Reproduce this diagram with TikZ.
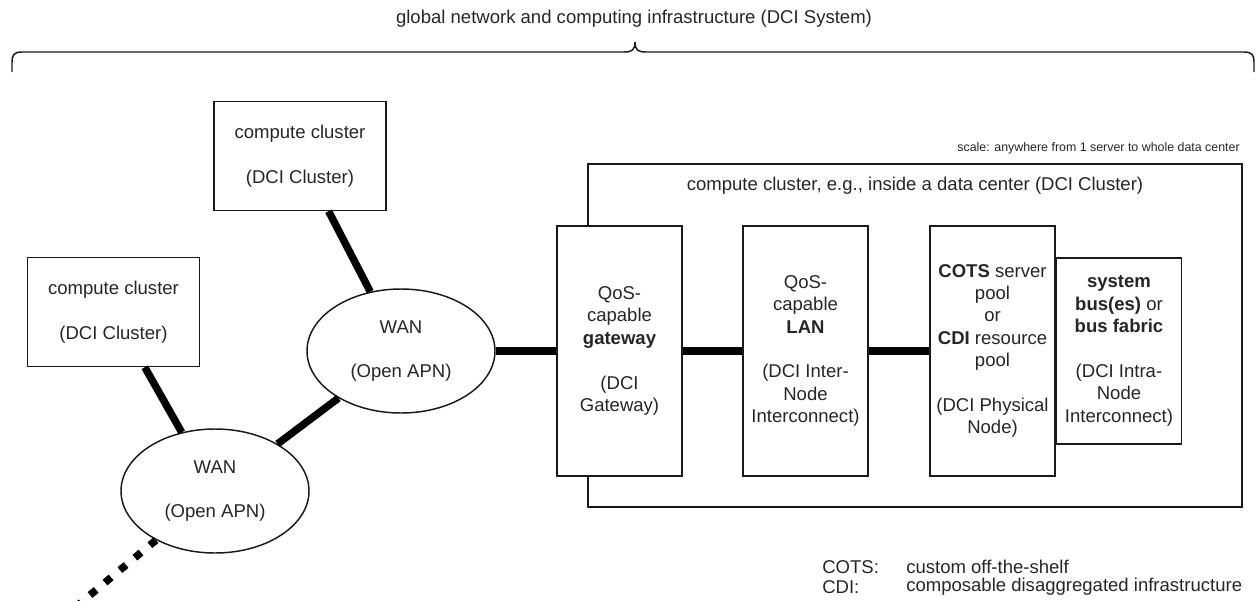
\documentclass[tikz,border=0pt]{standalone}
\usepackage{fontspec}
\setmainfont{Liberation Sans}
\usetikzlibrary{shapes.geometric}
\begin{document}
\begin{tikzpicture}[x=0.75pt,y=-0.75pt,
  every node/.style={font=\fontsize{13.9pt}{16.8pt}\selectfont, text=black!85, align=center, inner sep=0pt},
  thin line/.style={draw=black!90, line width=1.1pt},
  box/.style={thin line, fill=white, rectangle},
  cluster box/.style={box, minimum width=129pt, minimum height=81.75pt},
  tall box/.style={box, minimum width=93.75pt, minimum height=187.5pt},
  wan/.style={thin line, fill=white, ellipse, minimum width=141pt, minimum height=93pt},
  link/.style={draw=black, line width=5.6pt},
  dotted link/.style={draw=black, line width=5.6pt, dash pattern=on 6pt off 8.6pt},
  smalltext/.style={font=\fontsize{9.3pt}{11pt}\selectfont}
]
\useasboundingbox (0,0) rectangle (1257,600);

% title and brace
\node (title) at (634,19) {global network and computing infrastructure (DCI System)};
\draw[thin line] (12,72) -- (12,62) .. controls (12,55) and (14,52) .. (22,52) -- (624,52)
  .. controls (632,52) and (635,50) .. (635,42)
  .. controls (635,50) and (638,52) .. (646,52) -- (1244,52)
  .. controls (1252,52) and (1254,55) .. (1254,62) -- (1254,72);

% outer data-center cluster
\node[box, minimum width=490.5pt, minimum height=257.25pt] (dc) at (915,335.5) {};
\node (dclabel) at (915,186) {compute cluster, e.g., inside a data center (DCI Cluster)};
\node[smalltext, anchor=east] (scale) at (1240,148) {scale: anywhere from 1 server to whole data center};

% remote clusters and WANs
\node[cluster box] (c1) at (300,156) {compute cluster\\[16.8pt](DCI Cluster)};
\node[cluster box] (c2) at (113.5,312) {compute cluster\\[16.8pt](DCI Cluster)};
\node[wan] (wan1) at (401,351) {WAN\\[16.8pt](Open APN)};
\node[wan] (wan2) at (215,491) {WAN\\[16.8pt](Open APN)};
\coordinate (far) at (60,620);

% inner components
\node[tall box] (gw) at (619.5,351) {QoS-\\capable\\\textbf{gateway}\\[16.8pt](DCI\\Gateway)};
\node[tall box] (lan) at (805.5,351) {QoS-\\capable\\\textbf{LAN}\\[16.8pt](DCI Inter-\\Node\\Interconnect)};
\node[tall box] (pn) at (992.5,351) {\textbf{COTS} server\\pool\\or\\\textbf{CDI} resource\\pool\\[16.8pt](DCI Physical\\Node)};
\node[box, minimum width=93.75pt, minimum height=139.5pt, anchor=west] (bus) at (pn.east |- 0,351) {\textbf{system}\\\textbf{bus(es)} or\\\textbf{bus fabric}\\[16.8pt](DCI Intra-\\Node\\Interconnect)};

% connectors
\draw[link] (c1) -- (wan1);
\draw[link] (c2) -- (wan2);
\draw[link] (wan2) -- (wan1);
\draw[link] (wan1) -- (gw);
\draw[link] (gw) -- (lan);
\draw[link] (lan) -- (pn);
\draw[dotted link] (wan2) -- (far);

% legend
\node[anchor=west] (k1) at (822,567) {COTS:};
\node[anchor=west] (v1) at (906,567) {custom off-the-shelf};
\node[anchor=west] (k2) at (822,587) {CDI:};
\node[anchor=west] (v2) at (906,587) {composable disaggregated infrastructure};
\end{tikzpicture}
\end{document}
